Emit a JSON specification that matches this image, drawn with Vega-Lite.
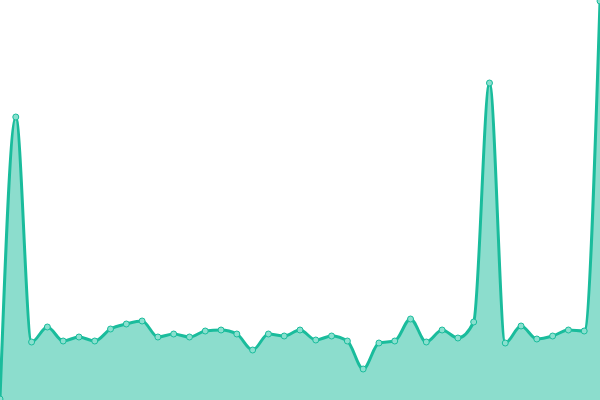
{
  "$schema": "https://vega.github.io/schema/vega-lite/v6.json",
  "width": 600,
  "height": 400,
  "autosize": "none",
  "padding": 0,
  "config": {"view": {"stroke": null}},
  "data": {
    "values": [
      {"i": 0, "v": 1},
      {"i": 1, "v": 283},
      {"i": 2, "v": 58},
      {"i": 3, "v": 73},
      {"i": 4, "v": 59},
      {"i": 5, "v": 63},
      {"i": 6, "v": 59},
      {"i": 7, "v": 71},
      {"i": 8, "v": 76},
      {"i": 9, "v": 79},
      {"i": 10, "v": 63},
      {"i": 11, "v": 66},
      {"i": 12, "v": 63},
      {"i": 13, "v": 69},
      {"i": 14, "v": 70},
      {"i": 15, "v": 66},
      {"i": 16, "v": 50},
      {"i": 17, "v": 66},
      {"i": 18, "v": 64},
      {"i": 19, "v": 70},
      {"i": 20, "v": 60},
      {"i": 21, "v": 64},
      {"i": 22, "v": 59},
      {"i": 23, "v": 31},
      {"i": 24, "v": 57},
      {"i": 25, "v": 59},
      {"i": 26, "v": 81},
      {"i": 27, "v": 58},
      {"i": 28, "v": 70},
      {"i": 29, "v": 62},
      {"i": 30, "v": 78},
      {"i": 31, "v": 317},
      {"i": 32, "v": 57},
      {"i": 33, "v": 74},
      {"i": 34, "v": 61},
      {"i": 35, "v": 64},
      {"i": 36, "v": 70},
      {"i": 37, "v": 69},
      {"i": 38, "v": 399}
    ]
  },
  "encoding": {
    "x": {"field": "i", "type": "quantitative", "axis": null, "scale": {"domain": [0, 38], "nice": false, "zero": false}},
    "y": {"field": "v", "type": "quantitative", "axis": null, "scale": {"domain": [0, 400], "nice": false}}
  },
  "layer": [
    {"mark": {"type": "area", "interpolate": "monotone", "color": "#1abc9c", "opacity": 0.5}},
    {"mark": {"type": "line", "interpolate": "monotone", "color": "#1abc9c", "strokeWidth": 3}},
    {"mark": {"type": "point", "filled": true, "fill": "#8ae0cf", "stroke": "#1abc9c", "strokeWidth": 1, "size": 36, "opacity": 1}}
  ]
}
